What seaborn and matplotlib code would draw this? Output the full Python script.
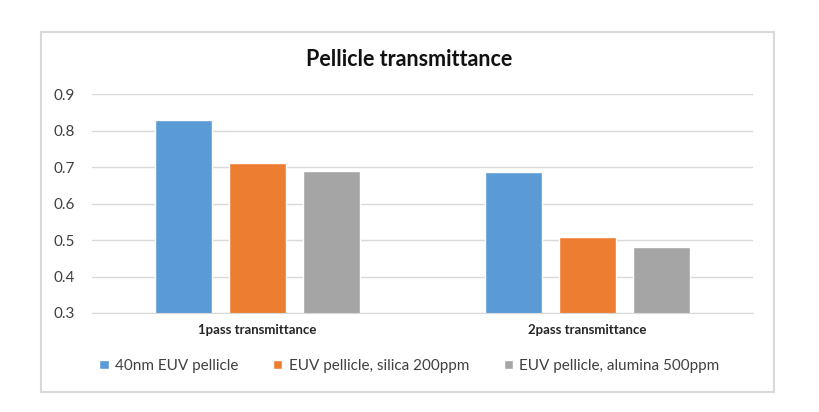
import pandas as pd
import numpy as np
import matplotlib
matplotlib.use("Agg")
import matplotlib.pyplot as plt
import seaborn as sns
from matplotlib.patches import Rectangle

# data
categories = ["1pass transmittance", "2pass transmittance"]
series = ["40nm EUV pellicle", "EUV pellicle, silica 200ppm", "EUV pellicle, alumina 500ppm"]
pellicle_40nm = [0.828, 0.687]
silica_200ppm = [0.711, 0.507]
alumina_500ppm = [0.690, 0.480]
colors = ["#5B9BD5", "#ED7D31", "#A5A5A5"]

rows = []
for name, vals in zip(series, [pellicle_40nm, silica_200ppm, alumina_500ppm]):
    for cat, v in zip(categories, vals):
        rows.append({"category": cat, "series": name, "value": v})
df = pd.DataFrame(rows)

sns.set_style("white")
plt.rcParams["font.family"] = ["Lato", "DejaVu Sans"]

fig = plt.figure(figsize=(8.19, 4.12), dpi=100)
# chart frame (like the Excel chart area border)
fig.patches.append(Rectangle((0.0497, 0.0485), 0.895, 0.8745, transform=fig.transFigure,
                             fill=False, edgecolor="#D9D9D9", linewidth=1.5, zorder=0))

ax = fig.add_axes([0.1123, 0.2403, 0.807, 0.5315])
sns.barplot(data=df, x="category", y="value", hue="series", palette=colors,
            width=0.672, gap=0.23, saturation=1, ax=ax, legend=True)

ax.set_ylim(0.3, 0.9)
ax.set_yticks(np.arange(0.3, 0.91, 0.1))
ax.set_yticklabels(["%.1f" % t for t in np.arange(0.3, 0.91, 0.1)])
ax.set_xlim(-0.5, 1.5)
ax.yaxis.grid(True, color="#D9D9D9", linewidth=1)
ax.set_axisbelow(True)
for s in ["top", "right", "left"]:
    ax.spines[s].set_visible(False)
ax.spines["bottom"].set_color("#D9D9D9")
ax.set_xlabel("")
ax.set_ylabel("")
ax.tick_params(axis="y", length=0, pad=12, labelsize=11, labelcolor="#404040")
ax.tick_params(axis="x", length=0, pad=8, labelsize=9.5, labelcolor="#262626")
for lab in ax.get_xticklabels():
    lab.set_fontweight("bold")

fig.text(0.5, 1 - 60 / 412, "Pellicle transmittance", ha="center", va="center",
         fontsize=15.5, fontweight="bold", color="#111111")

handles, labels = ax.get_legend_handles_labels()
ax.legend(handles, labels, loc="center", bbox_to_anchor=(0.5, 1 - 366 / 412),
          bbox_transform=fig.transFigure, ncol=3, frameon=False, fontsize=11,
          handlelength=0.6, handleheight=0.6, handletextpad=0.4, columnspacing=2.3,
          labelcolor="#404040")

fig.savefig("out.png", dpi=100)
